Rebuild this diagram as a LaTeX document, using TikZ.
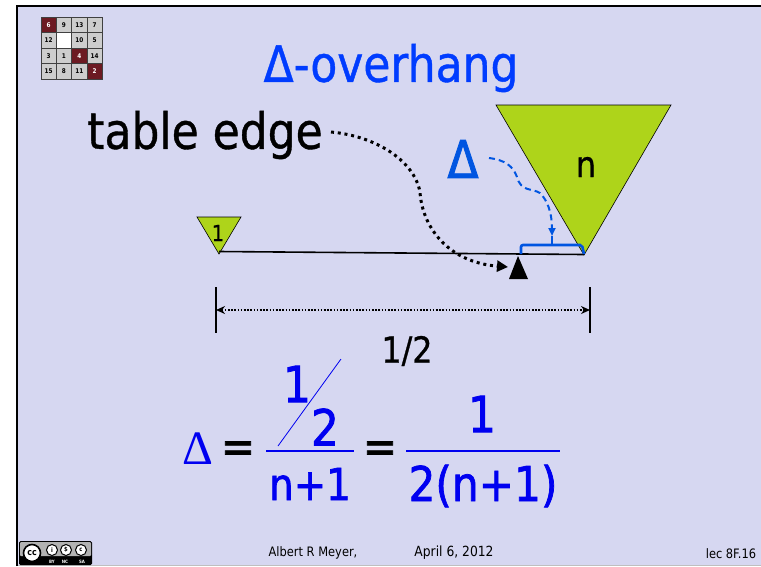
\documentclass[tikz,border=0pt]{standalone}
\usepackage{amsmath,amssymb}
\usepackage{fontspec}
\setmainfont[FakeStretch=0.88]{DejaVu Sans}
\newfontfamily\mediumfont[FakeStretch=0.88,FakeBold=0.8]{DejaVu Sans}
\newfontfamily\heavyfont[FakeStretch=0.88,FakeBold=1.5]{DejaVu Sans}
\newfontfamily\symbfont{Liberation Serif}
\usetikzlibrary{arrows.meta}
\definecolor{slidebg}{RGB}{214,215,241}
\definecolor{wedge}{RGB}{174,212,26}
\definecolor{darkblock}{RGB}{108,26,34}
\definecolor{lightblock}{RGB}{205,205,205}
\definecolor{titleblue}{RGB}{0,60,255}
\definecolor{markblue}{RGB}{0,85,225}
\definecolor{eqblue}{RGB}{0,0,240}
\tikzset{
  bigtext/.style={font=\fontsize{#1}{#1}\selectfont,inner sep=0pt},
  mediumtext/.style={font=\fontsize{#1}{#1}\selectfont\mediumfont,inner sep=0pt},
  heavytext/.style={font=\fontsize{#1}{#1}\selectfont\heavyfont,inner sep=0pt},
  tile/.style={draw=black!75,line width=.6pt,minimum size=15.4pt,inner sep=0pt,font=\fontsize{6.5}{6.5}\selectfont\bfseries},
  ccring/.style={circle,draw=black,fill=white,line width=1pt,minimum size=11pt,inner sep=0pt,font=\fontsize{6}{6}\selectfont\bfseries},
  cctext/.style={text=white,inner sep=0pt,font=\fontsize{4.5}{4.5}\selectfont\bfseries},
}
\begin{document}
\begin{tikzpicture}[x=1pt,y=-1pt]
\useasboundingbox (0,0) rectangle (761,566);
\fill[white] (0,0) rectangle (761,566);
\fill[slidebg] (17,6) rectangle (761,566);
\fill[black!25] (17,565) rectangle (761,566);
\draw[line width=2.4pt] (17,566) -- (17,6) -- (761,6);
% puzzle
\foreach \v/\cx/\cy/\tilecol/\tiletext in {
  6/48.5/25/darkblock/white,9/63.9/25/lightblock/black,13/79.3/25/lightblock/black,7/94.7/25/lightblock/black,
  12/48.5/40.4/lightblock/black,/63.9/40.4/white/black,10/79.3/40.4/lightblock/black,5/94.7/40.4/lightblock/black,
  3/48.5/55.8/lightblock/black,1/63.9/55.8/lightblock/black,4/79.3/55.8/darkblock/white,14/94.7/55.8/lightblock/black,
  15/48.5/71.2/lightblock/black,8/63.9/71.2/lightblock/black,11/79.3/71.2/lightblock/black,2/94.7/71.2/darkblock/white}
  \node[tile,fill=\tilecol,text=\tiletext] at (\cx,\cy) {\v};
% title
\node[mediumtext=50,text=titleblue] (title) at (391,68) {Δ-overhang};
\node[mediumtext=50] (tableedge) at (205,135) {table edge};
\node[heavytext=52,text=markblue] (delta) at (463,159) {Δ};
% wedges
\filldraw[fill=wedge,draw=black,line width=.6pt] (496,105) -- (671,105) -- (584,255) -- cycle;
\node[mediumtext=36] (nlabel) at (586,167) {n};
\filldraw[fill=wedge,draw=black,line width=.6pt] (197,217) -- (241,217) -- (219,254) -- cycle;
\node[mediumtext=22] (onelabel) at (218,233) {1};
% plank
\coordinate (plankl) at (219,251.5);
\coordinate (plankr) at (584,254.5);
\draw[line width=1.6pt] (plankl) -- (plankr);
% fulcrum
\coordinate (tip) at (518,256);
\fill (tip) -- (509,279) -- (528,279) -- cycle;
% bracket
\coordinate (brl) at (521,254);
\coordinate (brr) at (584,254);
\coordinate (brtop) at (552,245);
\coordinate (brstem) at (552,236);
\draw[markblue,line width=2.6pt,rounded corners=2pt] (brl) -- (521,245) -- (582,245) -- (brr);
\draw[markblue,line width=2.6pt] (brtop) -- (brstem);
\coordinate (dashstart) at (489,158);
\draw[markblue,line width=2pt,dash pattern=on 6pt off 4pt,-{Triangle[length=8pt,width=7pt]}]
  (dashstart) .. controls (505,160) and (513,166) .. (517,177)
  .. controls (521,192) and (532,188) .. (540,193)
  .. controls (547,200) and (552,212) .. (brstem);
% dotted arrow
\coordinate (dotstart) at (331,132);
\coordinate (pivot) at (508,267);
\draw[line width=3pt,dash pattern=on 3pt off 3.8pt,-{Triangle[length=11pt,width=11pt]}]
  (dotstart) .. controls (375,136) and (414,160) .. (420,192)
  .. controls (422,225) and (446,262) .. (pivot);
% dimension
\coordinate (diml) at (216,310);
\coordinate (dimr) at (590,310);
\draw[line width=1.6pt] (216,287) -- (216,333);
\draw[line width=1.6pt] (590,287) -- (590,333);
\draw[line width=1.6pt,dash pattern=on 1.6pt off 1.6pt,{Stealth[length=9pt,width=8pt]}-{Stealth[length=9pt,width=8pt]}] (diml) -- (dimr);
\node[mediumtext=36] (half) at (407,351) {1/2};
% equation
\node[font=\fontsize{48}{48}\selectfont\symbfont,inner sep=0pt,text=eqblue] (eqdelta) at (198,449) {Δ};
\node[heavytext=46] (eqone) at (238,452) {=};
\node[heavytext=50,text=eqblue] (numa) at (297,384) {1};
\node[heavytext=50,text=eqblue] (numb) at (325,427) {2};
\draw[eqblue,line width=.8pt] (278,446) -- (341,359);
\draw[eqblue,line width=2.5pt] (266,451) -- (354,451);
\node[heavytext=44,text=eqblue] (dena) at (310,484) {n+1};
\node[heavytext=46] (eqtwo) at (380,452) {=};
\node[heavytext=50,text=eqblue] (numc) at (482,414) {1};
\draw[eqblue,line width=2.5pt] (406,451) -- (560,451);
\node[heavytext=48,text=eqblue] (denb) at (483,486) {2(n+1)};
% badge
\fill[black,rounded corners=1.5pt] (19,541) rectangle (92,565);
\fill[black!30,rounded corners=1pt] (20,542) rectangle (91,556);
\node[circle,draw=black,fill=white,line width=1.6pt,minimum size=17pt,inner sep=0pt,font=\fontsize{9}{9}\selectfont\bfseries] (ccmark) at (32,553) {cc};
\node[ccring] (byring) at (52,550) {i};
\node[ccring] (ncring) at (66,550) {\$};
\node[ccring] (saring) at (81,550) {c};
\node[cctext] (bytext) at (52,562) {BY};
\node[cctext] (nctext) at (65,562) {NC};
\node[cctext] (satext) at (82,562) {SA};
% footer
\node[bigtext=13] (author) at (313,553) {Albert R Meyer,};
\node[bigtext=14] (date) at (454,553) {April 6, 2012};
\node[bigtext=13] (slidenum) at (731,554) {lec 8F.16};
\end{tikzpicture}
\end{document}
